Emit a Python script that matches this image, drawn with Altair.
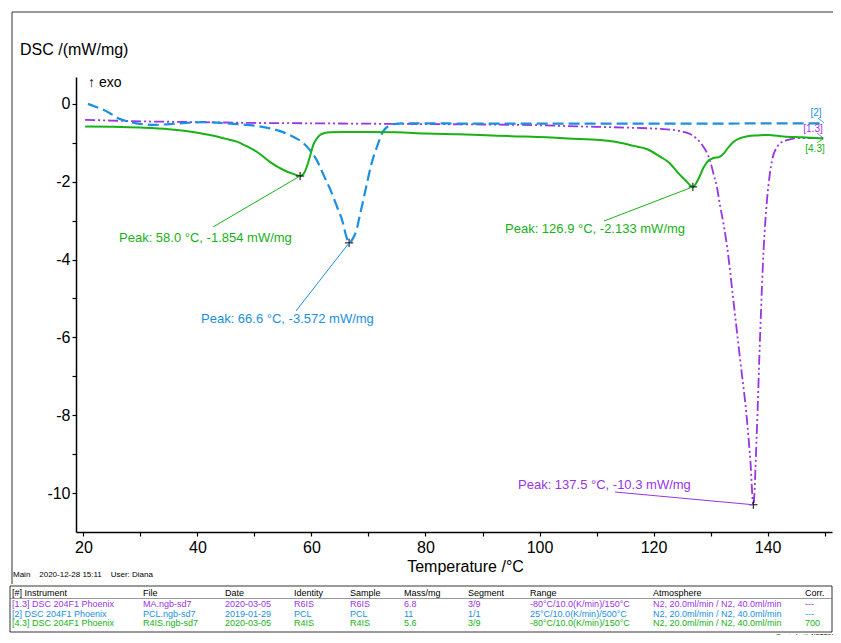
import altair as alt
import pandas as pd

# ---------------- data ----------------
green_T = [20.3, 25, 30, 35, 40, 42.2, 45, 46.9, 48.5, 50.4, 52.7, 55.1, 56.8, 58.0, 58.7, 59.2, 59.8,
           60.3, 61.0, 61.5, 62.3, 63.3, 66, 70, 75, 80, 85, 89.6, 95, 101.3, 105, 110.6, 113, 116.5,
           118.8, 121.2, 122.8, 124.1, 125.5, 126.9, 127.8, 128.8, 129.7, 130.5, 131.4, 132.3, 132.9,
           134, 135.2, 136.5, 138.1, 140, 142.8, 146, 149.8]
green_v = [-0.58, -0.59, -0.61, -0.65, -0.74, -0.80, -0.90, -0.97, -1.08, -1.23, -1.49, -1.70, -1.80,
           -1.854, -1.78, -1.61, -1.32, -1.06, -0.88, -0.80, -0.75, -0.73, -0.72, -0.72, -0.73, -0.76,
           -0.78, -0.80, -0.83, -0.86, -0.89, -0.93, -0.97, -1.08, -1.16, -1.36, -1.52, -1.74, -1.95,
           -2.133, -1.95, -1.63, -1.45, -1.39, -1.37, -1.28, -1.16, -0.98, -0.88, -0.83, -0.81, -0.80,
           -0.84, -0.86, -0.89]

blue_T = [20.8, 22, 23.5, 25, 26.4, 28, 29.3, 32.3, 35.2, 38, 41.0, 44, 46.9, 50, 52.7, 54.5, 56.2,
          57.5, 58.6, 59.8, 60.9, 62.2, 63.3, 64.5, 65.5, 66.0, 66.6, 67.3, 67.9, 68.5, 69.2, 69.8,
          70.5, 71.5, 72.6, 73.5, 74.4, 76.7, 80, 90, 100, 110, 120, 130, 140, 150.0]
blue_v = [0.0, -0.07, -0.15, -0.27, -0.39, -0.46, -0.50, -0.54, -0.52, -0.49, -0.47, -0.49, -0.52,
          -0.56, -0.63, -0.70, -0.80, -0.90, -1.01, -1.20, -1.44, -1.85, -2.2, -2.65, -3.05, -3.35,
          -3.572, -3.45, -3.24, -2.85, -2.4, -2.0, -1.55, -1.10, -0.70, -0.57, -0.52, -0.50, -0.50,
          -0.51, -0.51, -0.51, -0.51, -0.51, -0.50, -0.50]

purple_T = [20.3, 25, 30, 35, 40, 50, 60, 70, 80, 90, 100, 107, 115, 121.8, 124.7, 126.5, 127.6,
            128.5, 129.4, 130.0, 130.5, 131.1, 131.7, 132.3, 132.9, 134.0, 135.2, 136.4, 137.0, 137.5,
            138.1, 138.7, 139.3, 139.9, 140.4, 140.8, 141.7, 142.5, 143.4, 145.8, 149.8]
purple_v = [-0.41, -0.43, -0.45, -0.46, -0.47, -0.49, -0.50, -0.51, -0.52, -0.53, -0.55, -0.58,
            -0.61, -0.65, -0.70, -0.78, -0.90, -1.05, -1.27, -1.50, -1.79, -2.13, -2.64, -3.1, -3.67,
            -5.05, -6.59, -8.14, -9.2, -10.3, -8.48, -5.91, -3.76, -2.47, -1.80, -1.44, -1.10, -0.98,
            -0.93, -0.88, -0.88]

peak_T = [58.0, 66.6, 126.9, 137.5]
peak_v = [-1.854, -3.572, -2.133, -10.3]

series_tags = ["[2]", "[1.3]", "[4.3]"]

x_ticks = list(range(20, 151, 10))
y_ticks = list(range(-10, 1))

tbl_header = ["[#] Instrument", "File", "Date", "Identity", "Sample", "Mass/mg", "Segment",
              "Range", "Atmosphere", "Corr."]
tbl_row1 = ["[1.3] DSC 204F1 Phoenix", "MA.ngb-sd7", "2020-03-05", "R6IS", "R6IS", "6.8", "3/9",
            "-80°C/10.0(K/min)/150°C", "N2, 20.0ml/min / N2, 40.0ml/min", "---"]
tbl_row2 = ["[2] DSC 204F1 Phoenix", "PCL.ngb-sd7", "2019-01-29", "PCL", "PCL", "11", "1/1",
            "25°C/10.0(K/min)/500°C", "N2, 20.0ml/min / N2, 40.0ml/min", "---"]
tbl_row3 = ["[4.3] DSC 204F1 Phoenix", "R4IS.ngb-sd7", "2020-03-05", "R4IS", "R4IS", "5.6", "3/9",
            "-80°C/10.0(K/min)/150°C", "N2, 20.0ml/min / N2, 40.0ml/min", "700"]

# ---------------- layout / style ----------------
FONT = "Liberation Sans, Arial, sans-serif"
GREEN = "#16b216"
BLUE = "#1a8fe3"
PURPLE = "#9933e6"
W, H = 756, 455
NB = "\u00a0"

XS = alt.Scale(domain=[18.7, 151.3], nice=False, zero=False)
YS = alt.Scale(domain=[-11.0, 0.69], nice=False, zero=False)

x_axis = alt.Axis(values=x_ticks,
                  labelExpr="(datum.value % 20 == 0 && datum.value <= 140) ? '' + datum.value : ''",
                  tickSize=4, tickColor="black", tickWidth=1.2, domainColor="black", domainWidth=1.5,
                  labelFontSize=16, labelFont=FONT, labelColor="black", labelPadding=3,
                  labelFlush=False, labelOverlap=False, grid=False,
                  title="Temperature /°C", titleFontSize=16, titleFont=FONT, titleFontWeight="normal",
                  titleColor="black", titleX=389, titleY=34, titleBaseline="middle", titleAlign="center")
y_axis = alt.Axis(values=y_ticks,
                  labelExpr="(datum.value % 2 == 0) ? '' + datum.value : ''",
                  tickSize=4, tickColor="black", tickWidth=1.2, domainColor="black", domainWidth=1.5,
                  labelFontSize=16, labelFont=FONT, labelColor="black", labelPadding=2,
                  labelFlush=False, labelOverlap=False, grid=False, title=None)


def X(field="T"):
    return alt.X(f"{field}:Q", scale=XS, axis=x_axis)


def Y(field="v"):
    return alt.Y(f"{field}:Q", scale=YS, axis=y_axis)


one = pd.DataFrame({"a": [0]})
layers = []


def curve(T, v, color, dash, width):
    df = pd.DataFrame({"T": T, "v": v})
    kw = dict(color=color, strokeWidth=width, interpolate="monotone")
    if dash:
        kw["strokeDash"] = dash
    return alt.Chart(df).mark_line(**kw).encode(x=X(), y=Y())


layers.append(curve(purple_T, purple_v, PURPLE, [10, 3, 2, 3, 2, 3], 1.8))
layers.append(curve(blue_T, blue_v, BLUE, [11, 5], 2.2))
layers.append(curve(green_T, green_v, GREEN, None, 2.0))

# peak crosses
pk = pd.DataFrame({"T": peak_T, "v": peak_v})
layers.append(alt.Chart(pk).mark_point(shape="M-1,0L1,0M0,-1L0,1", filled=False, color="black",
                                       size=70, strokeWidth=1, opacity=1).encode(x=X(), y=Y()))

# peak labels and leaders
peak_colors = [GREEN, BLUE, GREEN, PURPLE]
label_pos = [(43, 161), (125, 242), (429, 152), (442, 408)]
leader_end = [(137, 150), (220, 234), (528, 144), (539, 415)]
for i in range(4):
    d = pd.DataFrame({"T": [peak_T[i]], "v": [peak_v[i]],
                      "label": [f"Peak: {peak_T[i]:.1f} °C, {peak_v[i]:.4g} mW/mg"]})
    layers.append(alt.Chart(d).mark_rule(color=peak_colors[i], strokeWidth=1).encode(
        x=X(), y=Y(), x2=alt.value(leader_end[i][0]), y2=alt.value(leader_end[i][1])))
    layers.append(alt.Chart(d).mark_text(color=peak_colors[i], font=FONT, fontSize=13, align="left",
                                         baseline="middle").encode(
        x=alt.value(label_pos[i][0]), y=alt.value(label_pos[i][1]), text="label:N"))

# series tags at right end
tag_colors = [BLUE, PURPLE, GREEN]
tag_pos = [(740, 36), (737, 52), (739, 72)]
tag_lead = [((742, 41), (748, 46)), ((741, 56), (747, 61)), ((741, 66), (747, 62))]
for i in range(3):
    layers.append(alt.Chart(one).mark_text(text=series_tags[i], color=tag_colors[i], font=FONT,
                                           fontSize=10, align="center", baseline="middle").encode(
        x=alt.value(tag_pos[i][0]), y=alt.value(tag_pos[i][1])))
    (a, b), (c, d_) = tag_lead[i]
    layers.append(alt.Chart(one).mark_rule(color=tag_colors[i], strokeWidth=0.8).encode(
        x=alt.value(a), y=alt.value(b), x2=alt.value(c), y2=alt.value(d_)))

# text annotations
def txt(text, x, y, size, color="black", align="left"):
    return alt.Chart(one).mark_text(text=text, color=color, font=FONT, fontSize=size, align=align,
                                    baseline="middle").encode(x=alt.value(x), y=alt.value(y))


layers.append(txt("DSC /(mW/mg)", -56, -27, 16))
layers.append(txt("↑ exo", 12, 6, 14))
layers.append(txt(f"Main{NB*4}2020-12-28 15:11{NB*4}User: Diana", -63, 497.5, 8))
layers.append(alt.Chart(one).mark_text(text="Created with NETZSCH Proteus software", color="black",
                                       font=FONT, fontSize=6, align="left", baseline="top").encode(
    x=alt.value(700), y=alt.value(556)))

# outer frame lines
def rule(x1, y1, x2, y2, w=1.0, color="#333333"):
    return alt.Chart(one).mark_rule(color=color, strokeWidth=w).encode(
        x=alt.value(x1), y=alt.value(y1), x2=alt.value(x2), y2=alt.value(y2))


layers.append(rule(-64, -65, 757, -65))
layers.append(rule(-64, -65, -64, 507))

# table
TL, TR, TT, TB = -66, 756, 509, 555
layers.append(rule(TL, TT, TR, TT, 0.8, "black"))
layers.append(rule(TL, TB, TR, TB, 0.8, "black"))
layers.append(rule(TL, TT, TL, TB, 0.8, "black"))
layers.append(rule(TR, TT, TR, TB, 0.8, "black"))
layers.append(rule(TL, 521.5, TR, 521.5, 0.6, "#555555"))

col_x = [-64, 67, 149, 218, 274, 328, 392, 454, 577, 729]
row_y = [516, 527, 536.5, 546]
rows = [tbl_header, tbl_row1, tbl_row2, tbl_row3]
row_colors = ["black", PURPLE, BLUE, GREEN]
for r in range(4):
    d = pd.DataFrame({"cell": rows[r], "px": col_x})
    layers.append(alt.Chart(d).mark_text(color=row_colors[r], font=FONT, fontSize=9, align="left",
                                         baseline="middle").encode(
        x=alt.X("px:Q", scale=None), y=alt.value(row_y[r]), text="cell:N"))

chart = alt.layer(*layers).properties(
    width=W, height=H,
    autosize=alt.AutoSizeParams(type="none"),
    padding={"left": 68, "top": 69, "right": 1, "bottom": 103},
    background="white",
).configure_view(stroke=None)

chart.save("out.html", embed_options={"renderer": "svg", "actions": False})
